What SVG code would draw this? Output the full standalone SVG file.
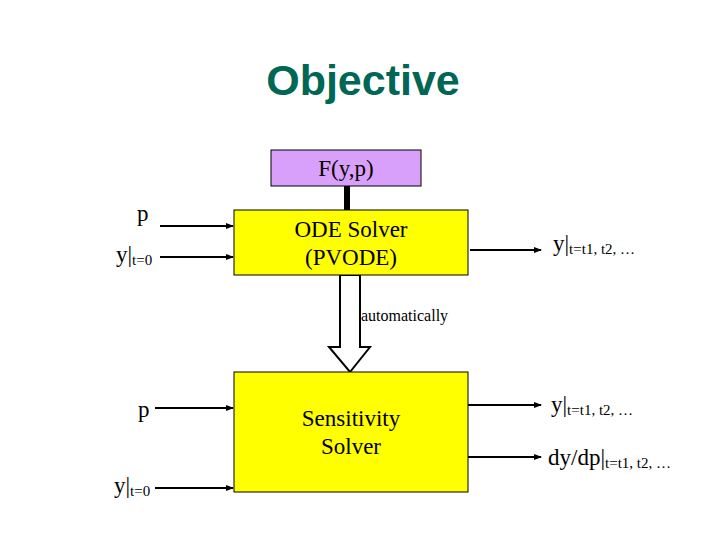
<svg xmlns="http://www.w3.org/2000/svg" width="720" height="540" viewBox="0 0 720 540">
<style>
text{font-family:"Liberation Serif","Times New Roman",serif}
.t{font-size:23px;fill:#000}
.s{font-size:15px}
.box{stroke:#000;stroke-width:1}
.ln{stroke:#000;stroke-width:2;fill:none;marker-end:url(#a)}
</style>
<defs><marker id="a" markerWidth="8" markerHeight="6" refX="7" refY="3" orient="auto" markerUnits="userSpaceOnUse"><path d="M0,0L8,3L0,6z" fill="#000"/></marker></defs>
<rect width="720" height="540" fill="#fff"/>
<text x="363" y="95" text-anchor="middle" style="font-family:'Liberation Sans',Arial,sans-serif" font-weight="bold" font-size="43" fill="#006655">Objective</text>
<g id="connectors">
<line x1="347" y1="186" x2="347" y2="210" stroke="#000" stroke-width="6"/>
<line class="ln" x1="160" y1="226" x2="233" y2="226"/>
<line class="ln" x1="160" y1="257" x2="233" y2="257"/>
<line class="ln" x1="470" y1="250" x2="541" y2="250"/>
<path d="M340,275V347H329L350,372L370,347H360V275Z" fill="#fff" stroke="#000" stroke-width="2"/>
<line class="ln" x1="155" y1="408" x2="233" y2="408"/>
<line class="ln" x1="155" y1="488" x2="233" y2="488"/>
<line class="ln" x1="468" y1="405" x2="541" y2="405"/>
<line class="ln" x1="468" y1="457" x2="541" y2="457"/>
</g>
<g id="F"><rect class="box" x="271" y="150" width="150" height="36" fill="#d9a0fb"/><text class="t" x="346" y="176" text-anchor="middle">F(y,p)</text></g>
<g id="ode"><rect class="box" x="234" y="210" width="234" height="65" fill="#ffff00"/><text class="t" x="351" y="237" text-anchor="middle">ODE Solver</text><text class="t" x="351" y="265" text-anchor="middle">(PVODE)</text></g>
<g id="sens"><rect class="box" x="234" y="372" width="234" height="120" fill="#ffff00"/><text class="t" x="351" y="426" text-anchor="middle">Sensitivity</text><text class="t" x="351" y="454" text-anchor="middle">Solver</text></g>
<g id="labels">
<text x="361" y="321" font-size="16">automatically</text>
<text class="t" x="137" y="221">p</text>
<text class="t" x="116" y="262">y|<tspan class="s" dy="3">t=0</tspan></text>
<text class="t" x="553" y="251">y|<tspan class="s" dy="3">t=t1, t2, …</tspan></text>
<text class="t" x="138" y="417">p</text>
<text class="t" x="114" y="493">y|<tspan class="s" dy="3">t=0</tspan></text>
<text class="t" x="551" y="412">y|<tspan class="s" dy="3">t=t1, t2, …</tspan></text>
<text class="t" x="548" y="465">dy/dp|<tspan class="s" dy="3">t=t1, t2, …</tspan></text>
</g>
</svg>
